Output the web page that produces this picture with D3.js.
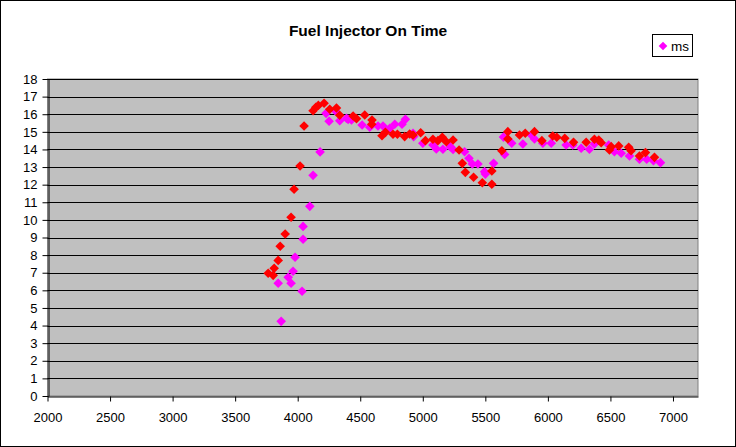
<!DOCTYPE html>
<html><head><meta charset="utf-8">
<script src="https://cdn.jsdelivr.net/npm/d3@7"></script>
<style>html,body{margin:0;padding:0;background:#fff;}svg{display:block;}</style>
</head><body>
<svg id="c" width="736" height="447"></svg>
<script>
const title = "Fuel Injector On Time";
const legendLabel = "ms";
const xTicks = [2000,2500,3000,3500,4000,4500,5000,5500,6000,6500,7000];
const yTicks = d3.range(0,19);
const redRpm = [3764,3804,3812,3844,3860,3900,3947,3971,4019,4051,4123,4145,4165,4211,4256,4310,4336,4443,4470,4536,4594,4592,4674,4701,4762,4797,4855,4895,4922,4983,5021,5081,5121,5156,5188,5242,5290,5316,5340,5406,5476,5552,5552,5632,5680,5680,5773,5819,5893,5952,6039,6071,6135,6205,6306,6372,6407,6426,6492,6506,6566,6646,6665,6732,6780,6852];
const redMs  = [6.97,6.85,7.25,7.7,8.5,9.2,10.15,11.74,13.06,15.33,16.2,16.4,16.5,16.62,16.28,16.35,15.94,15.9,15.75,15.96,15.67,15.43,14.78,14.97,14.86,14.86,14.73,14.88,14.82,14.95,14.5,14.58,14.5,14.69,14.44,14.54,13.97,13.21,12.7,12.42,12.11,12.02,12.78,13.93,15.01,14.6,14.82,14.92,15.01,14.5,14.76,14.69,14.63,14.41,14.41,14.58,14.54,14.38,13.97,14.16,14.2,14.12,13.93,13.63,13.82,13.55];
const magRpm = [3868,3844,3924,3947,3963,3979,4035,4043,4043,4097,4123,4179,4227,4251,4300,4336,4390,4403,4430,4515,4576,4642,4682,4736,4776,4834,4861,4922,4927,5000,5081,5108,5161,5220,5242,5334,5369,5396,5441,5494,5500,5566,5645,5654,5711,5800,5867,5893,5960,6027,6146,6199,6266,6332,6372,6486,6532,6586,6652,6732,6790,6844,6900];
const magMs  = [4.24,6.4,6.74,6.4,7.08,7.88,5.95,8.9,9.63,10.77,12.53,13.86,16.05,15.6,16.2,15.63,15.77,15.71,15.67,15.39,15.26,15.33,15.33,15.2,15.43,15.43,15.71,14.92,14.73,14.35,14.25,14.03,14.01,14.16,14.0,13.87,13.5,13.17,13.17,12.74,12.6,13.21,14.7,13.72,14.35,14.31,14.82,14.6,14.35,14.35,14.25,14.25,14.07,14.01,14.31,14.25,13.87,13.78,13.63,13.44,13.44,13.36,13.25];

const svg = d3.select("#c");
const W = 736, H = 447;
const L = 47.5, R = 698, T = 79, B = 396;
const x = d3.scaleLinear().domain([2000,7200]).range([L,R]);
const y = d3.scaleLinear().domain([0,18]).range([B,T]);
const font = "'Liberation Sans', Arial, sans-serif";

svg.append("rect").attr("x",0.5).attr("y",0.5).attr("width",W-1).attr("height",H-1)
  .attr("fill","#fff").attr("stroke","#000").attr("stroke-width",1);

svg.append("rect").attr("x",L).attr("y",T).attr("width",R-L).attr("height",B-T)
  .attr("fill","#C0C0C0").attr("stroke","#808080").attr("stroke-width",1);

// gridlines
svg.append("g").selectAll("line").data(yTicks.filter(d=>d>0)).join("line")
  .attr("x1",L).attr("x2",R)
  .attr("y1",d=>Math.round(y(d))+0.5).attr("y2",d=>Math.round(y(d))+0.5)
  .attr("stroke","#000").attr("stroke-width",1);

// y axis
const ya = svg.append("g").attr("transform",`translate(${Math.round(L)+0.5},0)`)
  .call(d3.axisLeft(y).tickValues(yTicks).tickSize(6).tickSizeOuter(0).tickPadding(5).tickFormat(d3.format("d")));
ya.select(".domain").attr("stroke","#000");
ya.selectAll(".tick line").attr("stroke","#000");
ya.selectAll("text").attr("font-family",font).attr("font-size","13px").attr("fill","#000");

// x axis
const xa = svg.append("g").attr("transform",`translate(0,${B+0.5})`)
  .call(d3.axisBottom(x).tickValues(xTicks).tickSize(5).tickSizeOuter(0).tickPadding(11).tickFormat(d3.format("d")));
xa.select(".domain").attr("stroke","#000");
xa.selectAll(".tick line").attr("stroke","#000");
xa.selectAll("text").attr("font-family",font).attr("font-size","13px").attr("fill","#000");

const diamond = r => `M0,${-r}L${r},0L0,${r}L${-r},0Z`;
const magData = magRpm.map((v,i)=>({x:v,y:magMs[i]}));
const redData = redRpm.map((v,i)=>({x:v,y:redMs[i]}));

svg.append("g").selectAll("path").data(magData).join("path")
  .attr("d",diamond(4.8)).attr("transform",d=>`translate(${x(d.x)},${y(d.y)})`)
  .attr("fill","#FF00FF");
svg.append("g").selectAll("path").data(redData).join("path")
  .attr("d",diamond(4.8)).attr("transform",d=>`translate(${x(d.x)},${y(d.y)})`)
  .attr("fill","#FF0000");

svg.append("text").attr("x",368).attr("y",36).attr("text-anchor","middle")
  .attr("font-family",font).attr("font-weight","bold").attr("font-size","15.5px").text(title);

// legend
svg.append("rect").attr("x",652.5).attr("y",34.5).attr("width",40).attr("height",22)
  .attr("fill","#fff").attr("stroke","#000");
svg.append("path").attr("d",diamond(4.3)).attr("transform","translate(663,46)").attr("fill","#FF00FF");
svg.append("text").attr("x",671).attr("y",51).attr("font-family",font).attr("font-size","13.5px").text(legendLabel);
</script>
</body></html>
